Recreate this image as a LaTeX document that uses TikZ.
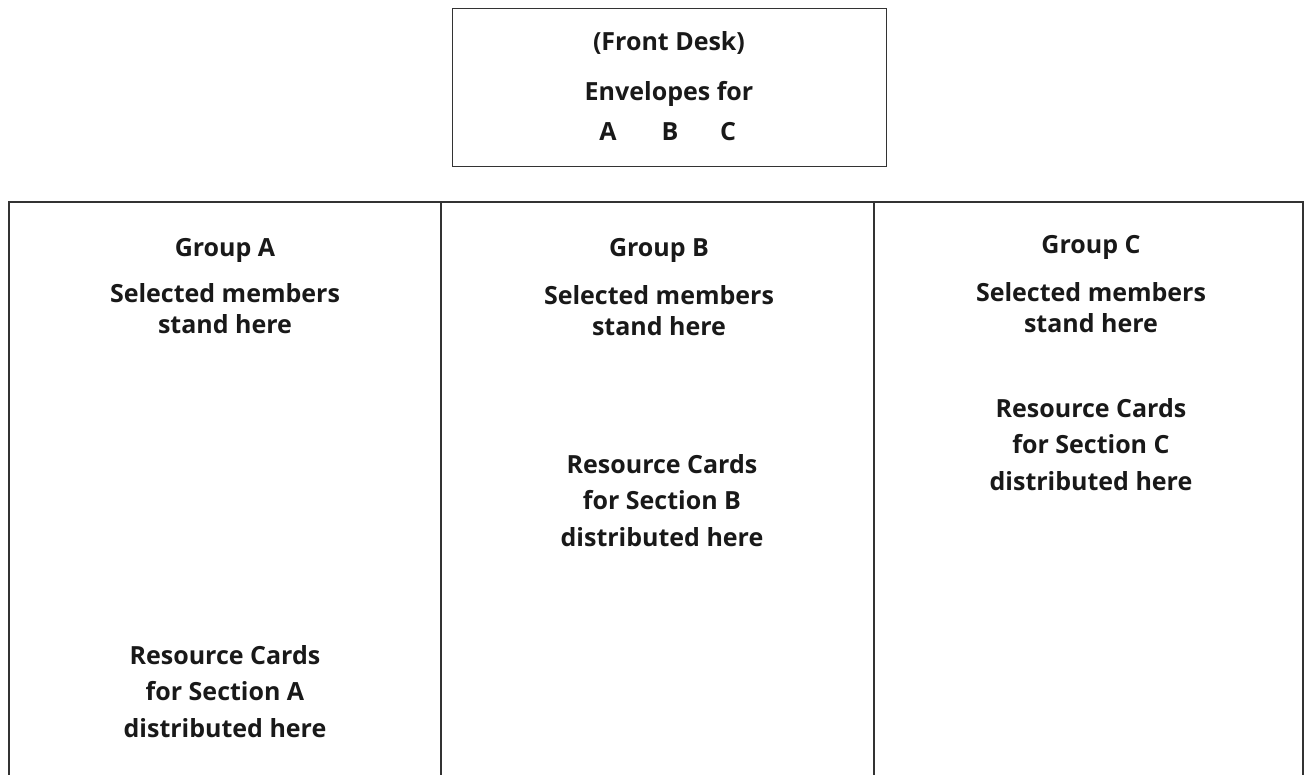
\documentclass[tikz,border=0pt]{standalone}
\usepackage{fontspec}
\setmainfont{Open Sans}
\begin{document}
\begin{tikzpicture}[x=1pt,y=-1pt,
  frame/.style={draw=black!80,line width=1.4pt},
  lbl/.style={font=\bfseries\fontsize{25}{36.5}\selectfont,align=center,anchor=base,inner sep=0pt,text=black!90},
  tight/.style={font=\bfseries\fontsize{25}{31}\selectfont}]
\useasboundingbox (0,0) rectangle (1305,774);
\clip (0,0) rectangle (1305,774);
% front desk
\node[frame,minimum width=434pt,minimum height=158pt,anchor=north west,inner sep=0pt] (desk) at (452,8) {};
\node[lbl] (fd) at (669,50) {(Front Desk)};
\node[lbl] (env) at (669,100) {Envelopes for};
\node[lbl] (ea) at (608,140) {A};
\node[lbl] (eb) at (670,140) {B};
\node[lbl] (ec) at (728,140) {C};
% columns
\coordinate (tl) at (9,202);
\coordinate (tr) at (1303,202);
\coordinate (bl) at (9,780);
\coordinate (br) at (1303,780);
\coordinate (d1t) at (441,202);
\coordinate (d1b) at (441,780);
\coordinate (d2t) at (874,202);
\coordinate (d2b) at (874,780);
\draw[frame] (bl) -- (tl) -- (tr) -- (br);
\draw[frame] (d1t) -- (d1b);
\draw[frame] (d2t) -- (d2b);
% group A
\node[lbl] (ga) at (225,256) {Group A};
\node[lbl,tight] (sa) at (225,333) {Selected members\\stand here};
\node[lbl] (ra) at (225,737) {Resource Cards\\for Section A\\distributed here};
% group B
\node[lbl] (gb) at (659,256) {Group B};
\node[lbl,tight] (sb) at (659,335) {Selected members\\stand here};
\node[lbl] (rb) at (662,546) {Resource Cards\\for Section B\\distributed here};
% group C
\node[lbl] (gc) at (1091,253) {Group C};
\node[lbl,tight] (sc) at (1091,332) {Selected members\\stand here};
\node[lbl] (rc) at (1091,490) {Resource Cards\\for Section C\\distributed here};
\end{tikzpicture}
\end{document}
